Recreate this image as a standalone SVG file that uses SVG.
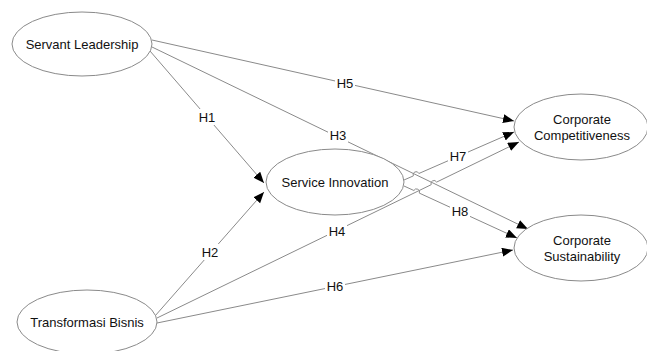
<svg xmlns="http://www.w3.org/2000/svg" width="647" height="351" viewBox="0 0 647 351">
<style>
.node ellipse{fill:#fff;stroke:#8a8a8a;stroke-width:1}
text{font-family:"Liberation Sans",Arial,sans-serif;font-size:13px;fill:#111;text-anchor:middle;dominant-baseline:central}
.edge{fill:none;stroke:#8a8a8a;stroke-width:1;marker-end:url(#arr)}
.lbl rect{fill:#fff}
</style>
<defs>
<marker id="arr" markerUnits="userSpaceOnUse" markerWidth="12" markerHeight="10" refX="11" refY="4.5" orient="auto">
<path d="M0,0 L11,4.5 L0,9 z" fill="#000"/>
</marker>
</defs>
<rect width="647" height="351" fill="#fff"/>
<g id="connectors">
<path class="edge" d="M152,40 L514,121"/>
<path class="edge" d="M152,47 L528,229"/>
<path class="edge" d="M150,51 L264,183"/>
<path class="edge" d="M155,316 L264,192"/>
<path class="edge" d="M157,318 L431.2,184.7 A3,3 0 0 1 436.6,182.1 L519,142"/>
<path class="edge" d="M157,323 L513,250"/>
<path class="edge" d="M404,180 L413.35,175.9 A3,3 0 0 1 418.85,173.5 L514,132"/>
<path class="edge" d="M404,186 L413.9,190.5 A3,3 0 0 1 419.3,193.1 L517,238"/>
<g class="lbl">
<rect x="335" y="75" width="20" height="16"/><text x="345" y="83">H5</text>
<rect x="328" y="128" width="20" height="16"/><text x="338" y="135">H3</text>
<rect x="197" y="109" width="20" height="16"/><text x="207" y="117">H1</text>
<rect x="200" y="244" width="20" height="16"/><text x="210" y="252">H2</text>
<rect x="327" y="223" width="20" height="16"/><text x="337" y="231">H4</text>
<rect x="325" y="278" width="20" height="16"/><text x="335" y="286">H6</text>
<rect x="448" y="148" width="20" height="16"/><text x="458" y="156">H7</text>
<rect x="450" y="203" width="20" height="16"/><text x="460" y="211">H8</text>
</g>
</g>
<g id="servant-leadership" class="node">
<ellipse cx="82" cy="44" rx="70" ry="32"/>
<text x="82" y="44">Servant Leadership</text>
</g>
<g id="service-innovation" class="node">
<ellipse cx="335" cy="182" rx="69" ry="33"/>
<text x="335" y="182">Service Innovation</text>
</g>
<g id="corporate-competitiveness" class="node">
<ellipse cx="581" cy="127" rx="67" ry="33"/>
<text x="582" y="119">Corporate</text>
<text x="582" y="135">Competitiveness</text>
</g>
<g id="corporate-sustainability" class="node">
<ellipse cx="581" cy="248" rx="67" ry="33"/>
<text x="582" y="240">Corporate</text>
<text x="582" y="256">Sustainability</text>
</g>
<g id="transformasi-bisnis" class="node">
<ellipse cx="87" cy="322" rx="70" ry="32"/>
<text x="87" y="322">Transformasi Bisnis</text>
</g>
</svg>
